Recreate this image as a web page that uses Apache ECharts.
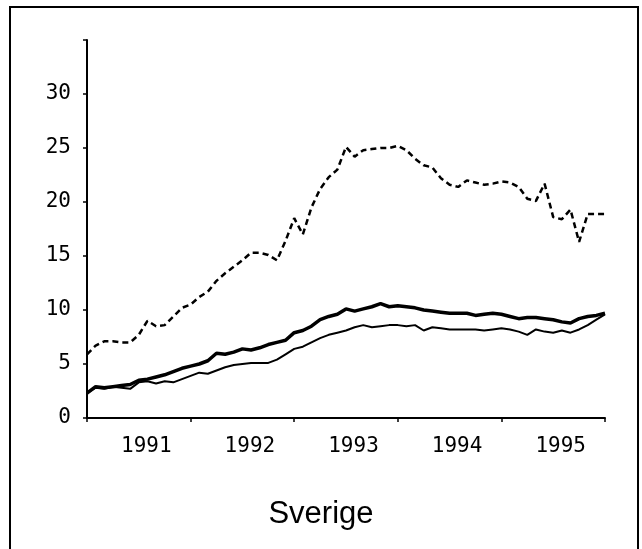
<!DOCTYPE html>
<html>
<head>
<meta charset="utf-8">
<script src="https://cdn.jsdelivr.net/npm/echarts@6/dist/echarts.min.js"></script>
<style>
  html, body { margin: 0; padding: 0; background: #fff; }
  #chart { width: 642px; height: 549px; }
</style>
</head>
<body>
<div id="chart"></div>
<script>
// monthly values, month 0 = start of 1991
var years = ['1991', '1992', '1993', '1994', '1995'];

var dashed = [5.9, 6.7, 7.1, 7.1, 7.0, 7.0, 7.7, 9.0, 8.5, 8.6,
  9.4, 10.2, 10.5, 11.2, 11.7, 12.7, 13.4, 14.0, 14.6, 15.3,
  15.3, 15.1, 14.6, 16.4, 18.5, 17.0, 19.5, 21.2, 22.3, 23.0,
  25.1, 24.2, 24.8, 24.9, 25.0, 25.0, 25.2, 24.8, 24.0, 23.4,
  23.2, 22.2, 21.6, 21.4, 22.0, 21.8, 21.6, 21.7, 21.9, 21.8,
  21.4, 20.3, 20.1, 21.7, 18.6, 18.4, 19.3, 16.3, 18.9, 18.9, 18.9];

var thick = [2.3, 2.9, 2.8, 2.9, 3.0, 3.1, 3.5, 3.6, 3.8, 4.0,
  4.3, 4.6, 4.8, 5.0, 5.3, 6.0, 5.9, 6.1, 6.4, 6.3,
  6.5, 6.8, 7.0, 7.2, 7.9, 8.1, 8.5, 9.1, 9.4, 9.6,
  10.1, 9.9, 10.1, 10.3, 10.6, 10.3, 10.4, 10.3, 10.2, 10.0,
  9.9, 9.8, 9.7, 9.7, 9.7, 9.5, 9.6, 9.7, 9.6, 9.4,
  9.2, 9.3, 9.3, 9.2, 9.1, 8.9, 8.8, 9.2, 9.4, 9.5, 9.7];

var thin = [2.3, 2.8, 2.7, 2.9, 2.8, 2.7, 3.3, 3.4, 3.2, 3.4,
  3.3, 3.6, 3.9, 4.2, 4.1, 4.4, 4.7, 4.9, 5.0, 5.1,
  5.1, 5.1, 5.4, 5.9, 6.4, 6.6, 7.0, 7.4, 7.7, 7.9,
  8.1, 8.4, 8.6, 8.4, 8.5, 8.6, 8.6, 8.5, 8.6, 8.1,
  8.4, 8.3, 8.2, 8.2, 8.2, 8.2, 8.1, 8.2, 8.3, 8.2,
  8.0, 7.7, 8.2, 8.0, 7.9, 8.1, 7.9, 8.2, 8.6, 9.1, 9.6];

function pairs(arr) {
  return arr.map(function(v, i) { return [i, v]; });
}

var chart = echarts.init(document.getElementById('chart'));
var tickFont = { fontFamily: 'DejaVu Sans Mono', fontSize: 21, color: '#000' };

chart.setOption({
  animation: false,
  title: {
    text: 'Sverige',
    left: 'center',
    top: 494,
    textStyle: { fontFamily: 'Liberation Sans', fontSize: 31, fontWeight: 'normal', color: '#000' }
  },
  graphic: [{
    type: 'rect',
    shape: { x: 10, y: 7, width: 628, height: 560 },
    style: { fill: 'none', stroke: '#000', lineWidth: 2 }
  }],
  grid: { left: 87, right: 37, top: 40, bottom: 131 },
  xAxis: [{
    type: 'value',
    min: 0, max: 60, interval: 12,
    axisLine: { lineStyle: { color: '#000', width: 2 } },
    axisTick: { length: 4, lineStyle: { color: '#000', width: 1.5 } },
    axisLabel: { show: false },
    splitLine: { show: false }
  }, {
    type: 'category',
    position: 'bottom',
    data: years,
    boundaryGap: true,
    axisLine: { show: false },
    axisTick: { show: false },
    axisLabel: {
      margin: 18,
      padding: [0, 0, 0, 15],
      fontFamily: tickFont.fontFamily, fontSize: tickFont.fontSize, color: tickFont.color
    }
  }],
  yAxis: {
    type: 'value',
    min: 0, max: 35, interval: 5,
    axisLine: { show: true, lineStyle: { color: '#000', width: 2 } },
    axisTick: { show: true, length: 4, lineStyle: { color: '#000', width: 1.5 } },
    axisLabel: {
      margin: 16,
      fontFamily: tickFont.fontFamily, fontSize: tickFont.fontSize, color: tickFont.color,
      formatter: function(v) { return v == 35 ? '' : v; }
    },
    splitLine: { show: false }
  },
  series: [{
    type: 'line', xAxisIndex: 0, data: pairs(dashed),
    showSymbol: false,
    lineStyle: { color: '#000', width: 2.5, type: [6, 4] }
  }, {
    type: 'line', xAxisIndex: 0, data: pairs(thick),
    showSymbol: false,
    lineStyle: { color: '#000', width: 3.5 }
  }, {
    type: 'line', xAxisIndex: 0, data: pairs(thin),
    showSymbol: false,
    lineStyle: { color: '#000', width: 2 }
  }]
});
</script>
</body>
</html>
